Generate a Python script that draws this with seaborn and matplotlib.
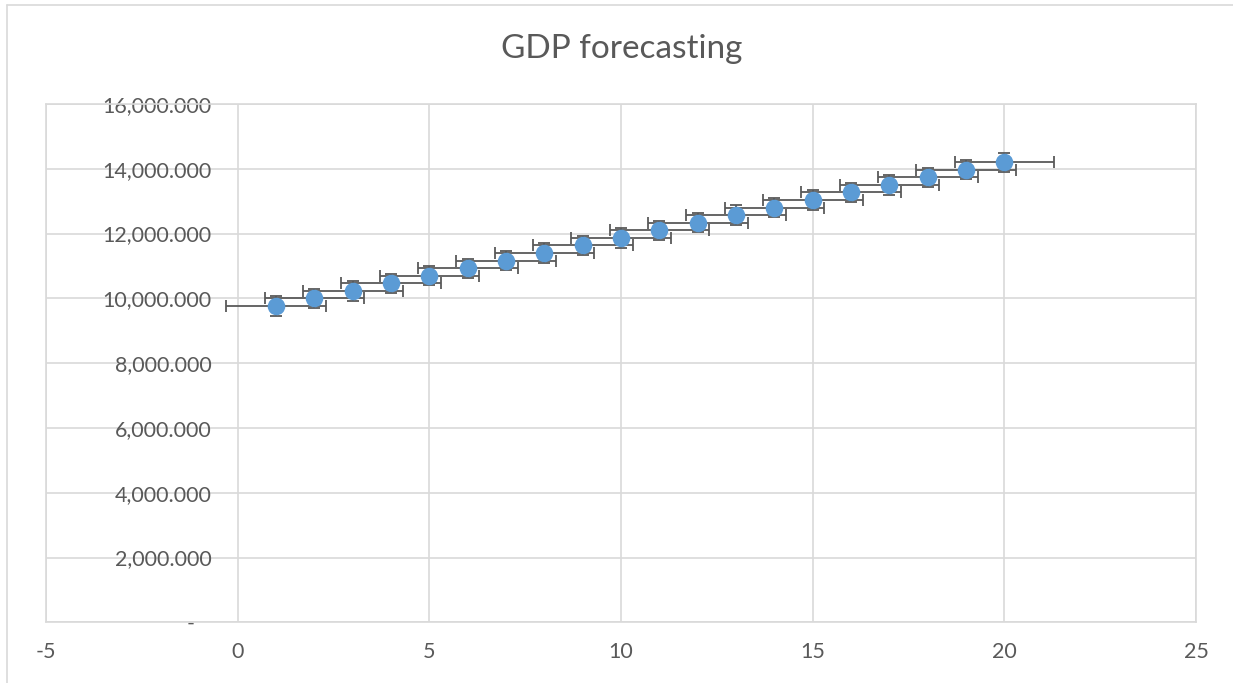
import numpy as np
import pandas as pd
import seaborn as sns
import matplotlib.pyplot as plt
from matplotlib.lines import Line2D

# forecast periods and GDP values
periods = [1, 2, 3, 4, 5, 6, 7, 8, 9, 10, 11, 12, 13, 14, 15, 16, 17, 18, 19, 20]
gdp = [9765, 10000, 10230, 10465, 10700, 10930, 11165, 11400, 11635, 11870,
       12100, 12335, 12570, 12800, 13035, 13270, 13500, 13735, 13970, 14200]
y_err = [300] * 20
x_err = [1.3] * 20

x_ticks = [-5, 0, 5, 10, 15, 20, 25]
y_ticks = [0, 2000, 4000, 6000, 8000, 10000, 12000, 14000, 16000]
y_labels = ["-   ", "2,000.000", "4,000.000", "6,000.000", "8,000.000",
            "10,000.000", "12,000.000", "14,000.000", "16,000.000"]

df = pd.DataFrame({"period": periods, "gdp": gdp})

sns.set_theme(style="white")
plt.rcParams['font.family'] = ['Lato', 'DejaVu Sans']

grey_txt = "#595959"
grid_col = "#d9d9d9"

fig = plt.figure(figsize=(12.33, 6.83), dpi=100)
ax = fig.add_axes([46 / 1233, 1 - 622.3 / 683, (1196 - 46) / 1233, (622.3 - 104) / 683])

ax.errorbar(df["period"], df["gdp"], yerr=y_err, xerr=x_err, fmt="none",
            ecolor="#595959", elinewidth=1.3, capsize=4.5, capthick=1.3, zorder=2)
sns.scatterplot(data=df, x="period", y="gdp", ax=ax, s=160, color="#5b9bd5",
                edgecolor="#5b9bd5", linewidth=0, zorder=3, legend=False)

ax.set_xlim(-5, 25)
ax.set_ylim(0, 16000)
ax.set_xticks(x_ticks)
ax.set_xticklabels([str(t) for t in x_ticks])
ax.set_yticks(y_ticks)
ax.set_yticklabels(y_labels)
ax.grid(True, color=grid_col, linewidth=1.2)
ax.set_axisbelow(True)
# left edge of the plot area (x = -5 gridline)
ax.axvline(-5, color=grid_col, linewidth=1.2, clip_on=False, zorder=0.5)

# y labels sit next to the x = 0 line, like Excel
ax.spines["left"].set_position(("data", 0))
ax.spines["left"].set_visible(False)
for s in ["top", "right", "bottom"]:
    ax.spines[s].set_color(grid_col)
    ax.spines[s].set_linewidth(1.2)
ax.tick_params(axis="y", length=0, pad=19, labelsize=15.5, labelcolor=grey_txt)
ax.tick_params(axis="x", length=0, pad=14, labelsize=15.5, labelcolor=grey_txt)
ax.set_xlabel("")
ax.set_ylabel("")

fig.text(622 / 1233, 1 - 49 / 683, "GDP forecasting", ha="center", va="center",
         fontsize=24, color=grey_txt)

# chart area border (left and top edges visible)
fig.add_artist(Line2D([7 / 1233, 7 / 1233], [0, 1 - 5 / 683], color=grid_col, linewidth=1.2))
fig.add_artist(Line2D([7 / 1233, 1], [1 - 5 / 683, 1 - 5 / 683], color=grid_col, linewidth=1.2))

fig.savefig("out.png", dpi=100)
